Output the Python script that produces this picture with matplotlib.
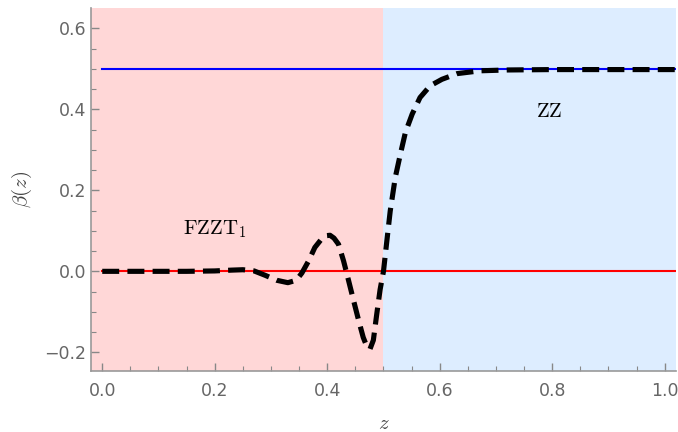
import numpy as np
import matplotlib.pyplot as plt

plt.rcParams['mathtext.fontset'] = 'cm'

# beta(z) along the flow
z_vals = [0.00, 0.05, 0.10, 0.15, 0.20, 0.23, 0.25, 0.27, 0.29, 0.31, 0.33,
          0.345, 0.355, 0.367, 0.378, 0.39, 0.398, 0.405, 0.412, 0.420, 0.429,
          0.438, 0.447, 0.456, 0.464, 0.470, 0.476, 0.482, 0.488, 0.494, 0.500,
          0.506, 0.512, 0.521, 0.530, 0.539, 0.551, 0.565, 0.583, 0.604, 0.631,
          0.672, 0.72, 0.80, 0.90, 1.02]
beta_vals = [0.000, 0.000, 0.000, 0.000, 0.001, 0.003, 0.004, 0.001, -0.010, -0.022, -0.028,
             -0.022, -0.004, 0.026, 0.059, 0.080, 0.088, 0.089, 0.082, 0.067, 0.026,
             -0.023, -0.073, -0.122, -0.163, -0.184, -0.192, -0.170, -0.106, -0.045, 0.000,
             0.075, 0.149, 0.232, 0.289, 0.343, 0.388, 0.429, 0.458, 0.474, 0.488,
             0.495, 0.497, 0.498, 0.498, 0.498]

z_split = 0.5
fixed_points = [0.0, 0.5]
x_range = (-0.02, 1.02)
y_range = (-0.246, 0.65)

fig = plt.figure(figsize=(6.78, 4.32), dpi=100)
ax = fig.add_axes([0.1342, 0.1412, 0.8628, 0.8403])

ax.axvspan(x_range[0], z_split, color='#ffd7d7', lw=0, zorder=0)
ax.axvspan(z_split, x_range[1], color='#ddedff', lw=0, zorder=0)

ax.plot([0, x_range[1]], [fixed_points[1]] * 2, color='#0000ff', lw=1.5, zorder=2)
ax.plot([0, x_range[1]], [fixed_points[0]] * 2, color='#ff0000', lw=1.5, zorder=2)
ax.plot(z_vals, beta_vals, color='black', lw=3.7, ls=(0, (3.3, 1.6)),
        dash_capstyle='butt', zorder=3)

ax.text(0.2, 0.105, r'$\mathrm{FZZT}_1$', fontsize=15, ha='center', va='center')
ax.text(0.795, 0.396, r'$\mathrm{ZZ}$', fontsize=15, ha='center', va='center')

ax.set_xlim(*x_range)
ax.set_ylim(*y_range)
ax.set_xticks(np.arange(0, 1.01, 0.2))
ax.set_xticks(np.arange(0, 1.02, 0.05), minor=True)
ax.set_yticks(np.arange(-0.2, 0.61, 0.2))
ax.set_yticks(np.arange(-0.2, 0.65, 0.05), minor=True)
ax.xaxis.set_major_formatter(plt.FuncFormatter(lambda v, p: f'{v:.1f}'.replace('-', '\u2212')))
ax.yaxis.set_major_formatter(plt.FuncFormatter(lambda v, p: f'{v:.1f}'.replace('-', '\u2212')))

for s in ['top', 'right']:
    ax.spines[s].set_visible(False)
for s in ['left', 'bottom']:
    ax.spines[s].set_color('#999999')
    ax.spines[s].set_linewidth(1.2)
ax.tick_params(which='both', direction='in', color='#888888', labelcolor='#666666',
               labelsize=12.5)
ax.tick_params(which='major', length=6, width=1)
ax.tick_params(which='minor', length=3.5, width=0.8)
ax.tick_params(axis='x', pad=8)

ax.set_xlabel(r'$z$', fontsize=15, color='#444444', labelpad=9)
ax.set_ylabel(r'$\beta(z)$', fontsize=15, color='#444444', labelpad=7)

fig.savefig('out.png', dpi=100)
